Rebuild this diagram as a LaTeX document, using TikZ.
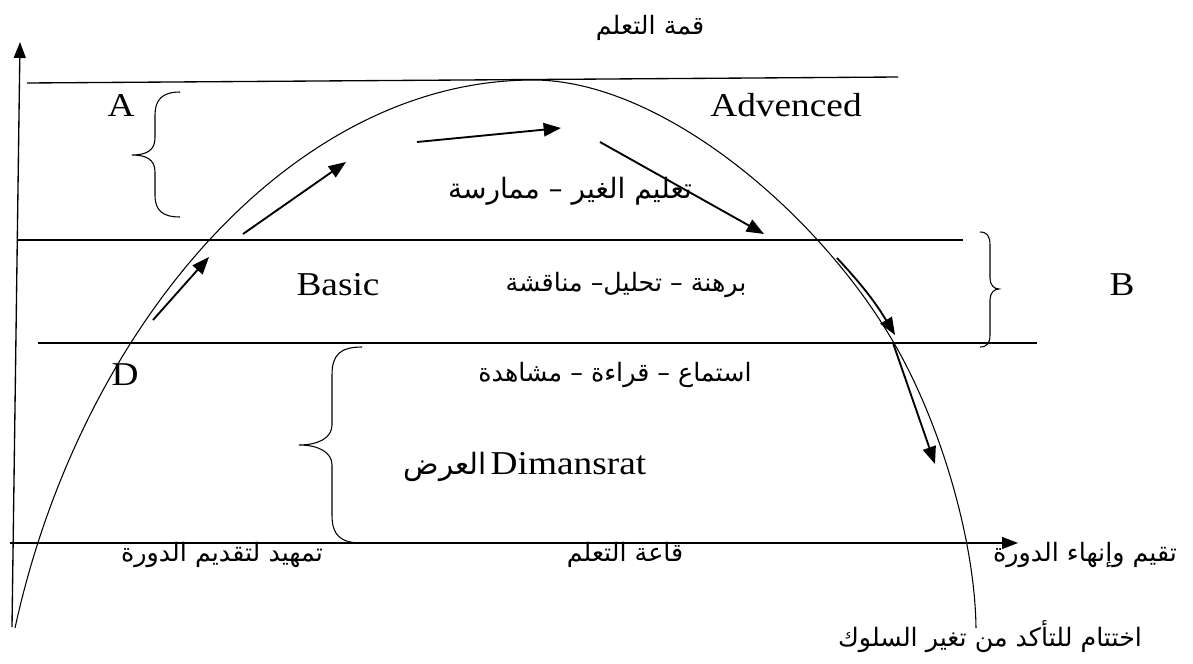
\documentclass[tikz,border=0pt]{standalone}
\usepackage{fontspec}
\setmainfont[FakeStretch=1.12]{Liberation Serif}
\newfontfamily\arabicfont[Script=Arabic]{DejaVu Sans}
\TeXXeTstate=1
\usetikzlibrary{arrows.meta}
\newcommand{\artxt}[1]{{\arabicfont\beginR #1\endR}}

\begin{document}
\begin{tikzpicture}[x=0.75pt,y=-0.75pt,
  axis/.style={line width=1pt,-{Triangle[length=12pt,width=9pt]}},
  band/.style={line width=1pt},
  curve/.style={line width=0.8pt},
  brace/.style={line width=0.8pt},
  arr/.style={line width=1.4pt,-{Triangle[length=13pt,width=10pt]}},
  latin/.style={inner sep=0pt,font=\fontsize{25}{29}\selectfont},
  arab/.style={inner sep=0pt,font=\arabicfont\fontsize{19}{23}\selectfont}
]
\useasboundingbox (0,0) rectangle (1193,664);

\coordinate (ybot) at (12,627);
\coordinate (ytop) at (20,42);
\coordinate (xbeg) at (10,543);
\coordinate (xend) at (1018,543);
\draw[axis] (ybot)--(ytop);
\draw[axis] (xbeg)--(xend);

\draw[band] (27,83)--(898,77);
\draw[band] (18,240)--(963,240);
\draw[band] (38,343)--(1037,343);

\coordinate (cstart) at (15,628);
\coordinate (ctop) at (533,80);
\coordinate (cmid) at (891,338);
\coordinate (cend) at (976,628);
\draw[curve] (cstart) .. controls (80,330) and (290,80) .. (ctop)
  .. controls (660,80) and (815,210) .. (cmid)
  .. controls (940,420) and (975,540) .. (cend);

\draw[brace] (180,92) .. controls (162,92) and (155,100) .. (155,115) -- (155,138)
  .. controls (155,150) and (147,155) .. (132,155) .. controls (147,155) and (155,160) .. (155,172)
  -- (155,195) .. controls (155,210) and (162,217) .. (180,217);
\draw[brace] (980,232) .. controls (987,232) and (990,236) .. (990,245) -- (990,278)
  .. controls (990,285) and (994,289) .. (999,289) .. controls (994,289) and (990,293) .. (990,300)
  -- (990,335) .. controls (990,343) and (987,347) .. (980,347);
\draw[brace] (362,347) .. controls (340,347) and (332,355) .. (332,375) -- (332,425)
  .. controls (332,438) and (318,445) .. (299,445) .. controls (318,445) and (332,452) .. (332,465)
  -- (332,515) .. controls (332,535) and (340,543) .. (362,543);

\coordinate (s1) at (153,320); \coordinate (e1) at (209,257);
\coordinate (s2) at (243,234); \coordinate (e2) at (346,162);
\coordinate (s3) at (417,142); \coordinate (e3) at (561,128);
\coordinate (s4) at (600,142); \coordinate (e4) at (764,234);
\coordinate (s5) at (837,258); \coordinate (e5) at (895,335);
\coordinate (s6) at (893,343); \coordinate (e6) at (935,464);
\draw[arr] (s1)--(e1);
\draw[arr] (s2)--(e2);
\draw[arr] (s3)--(e3);
\draw[arr] (s4)--(e4);
\draw[arr] (s5) to[bend left=6] (e5);
\draw[arr] (s6)--(e6);

\node[arab] (peak) at (650,28) {\artxt{قمة التعلم}};
\node[latin] (lvlA) at (121,105) {A};
\node[latin] (adv) at (786,105) {Advenced};
\node[arab,font=\arabicfont\fontsize{21}{25}\selectfont] (teach) at (570,191) {\artxt{تعليم الغير – ممارسة}};
\node[latin] (basic) at (338,285) {Basic};
\node[arab] (proof) at (626,285) {\artxt{برهنة – تحليل– مناقشة}};
\node[latin] (lvlB) at (1122,285) {B};
\node[latin] (lvlD) at (125,375) {D};
\node[arab] (listen) at (615,375) {\artxt{استماع – قراءة – مشاهدة}};
\node[latin] (demo) at (525,467) {{\arabicfont\fontsize{22}{26}\selectfont\beginR العرض\endR}\hspace{0.12em}Dimansrat};
\node[arab] (intro) at (222,555) {\artxt{تمهيد لتقديم الدورة}};
\node[arab] (hall) at (625,555) {\artxt{قاعة التعلم}};
\node[arab] (evalend) at (1085,555) {\artxt{تقيم وإنهاء الدورة}};
\node[arab] (close) at (990,637) {\artxt{اختتام للتأكد من تغير السلوك}};
\end{tikzpicture}
\end{document}
